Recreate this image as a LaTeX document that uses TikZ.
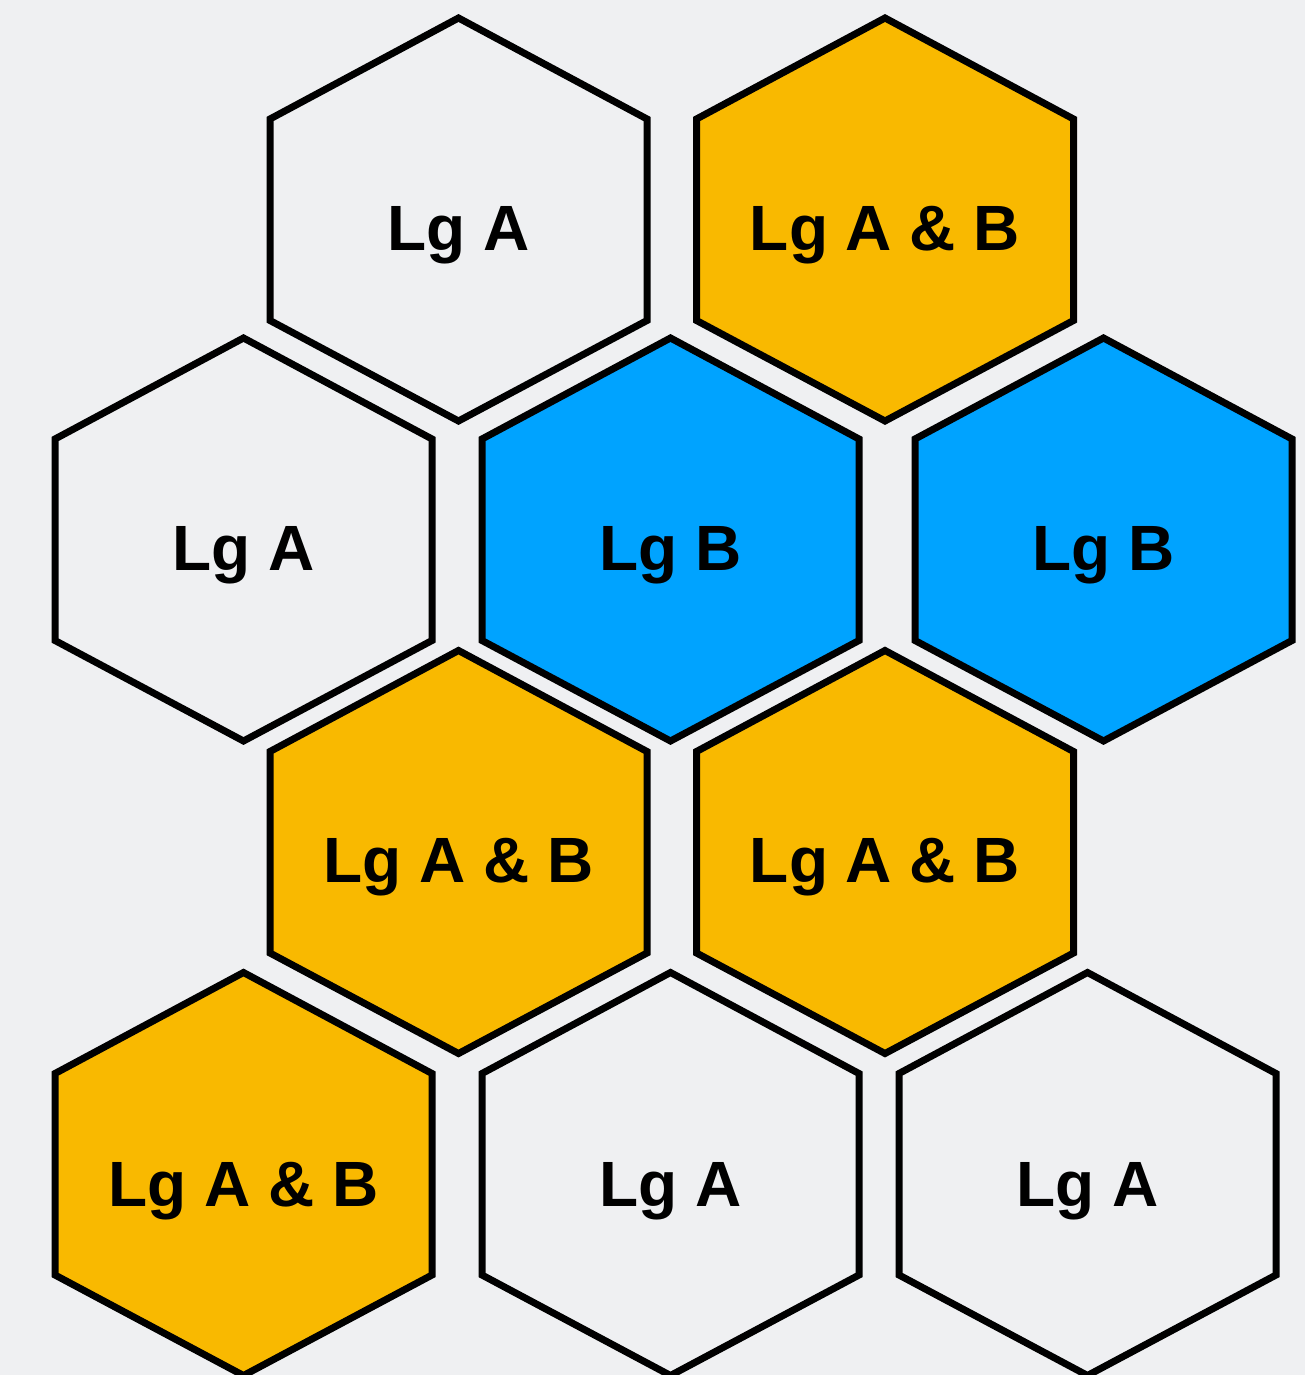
\documentclass[tikz,border=0pt]{standalone}
\usepackage{fontspec}
\setmainfont{Liberation Sans}
\definecolor{bgc}{HTML}{EFF0F2}
\definecolor{yel}{HTML}{F9B900}
\definecolor{blu}{HTML}{00A3FF}
\tikzset{
  hexline/.style={draw=black, line width=7pt, line join=miter},
  lab/.style={anchor=base, inner sep=0pt, font=\fontsize{64}{76}\selectfont\bfseries},
}
\newcommand{\hexat}[4]{% cx, cy, fill, name
  \path[hexline, fill=#3] (#1,#2-201.5) -- (#1+188.5,#2-100.5) -- (#1+188.5,#2+101) -- (#1,#2+201.5) -- (#1-188.5,#2+101) -- (#1-188.5,#2-100.5) -- cycle;
  \coordinate (#4) at (#1,#2);
}
\begin{document}
\begin{tikzpicture}[x=1pt,y=-1pt]
\fill[bgc] (0,0) rectangle (1305,1375);
\useasboundingbox (0,0) rectangle (1305,1375);
\hexat{458.5}{219.5}{bgc}{h1}
\hexat{885}{219.5}{yel}{h2}
\hexat{243.5}{539.5}{bgc}{h3}
\hexat{670.5}{539.5}{blu}{h4}
\hexat{1103.5}{539.5}{blu}{h5}
\hexat{458.5}{852}{yel}{h6}
\hexat{885}{852}{yel}{h7}
\hexat{243.5}{1174}{yel}{h8}
\hexat{670.5}{1174}{bgc}{h9}
\hexat{1087.5}{1174}{bgc}{h10}
\node[lab] (t1) at (458.5,250) {Lg A};
\node[lab] (t2) at (885,250) {Lg A \& B};
\node[lab] (t3) at (243.5,570) {Lg A};
\node[lab] (t4) at (670.5,570) {Lg B};
\node[lab] (t5) at (1103.5,570) {Lg B};
\node[lab] (t6) at (458.5,882) {Lg A \& B};
\node[lab] (t7) at (885,882) {Lg A \& B};
\node[lab] (t8) at (243.5,1206) {Lg A \& B};
\node[lab] (t9) at (670.5,1206) {Lg A};
\node[lab] (t10) at (1087.5,1206) {Lg A};
\end{tikzpicture}
\end{document}
